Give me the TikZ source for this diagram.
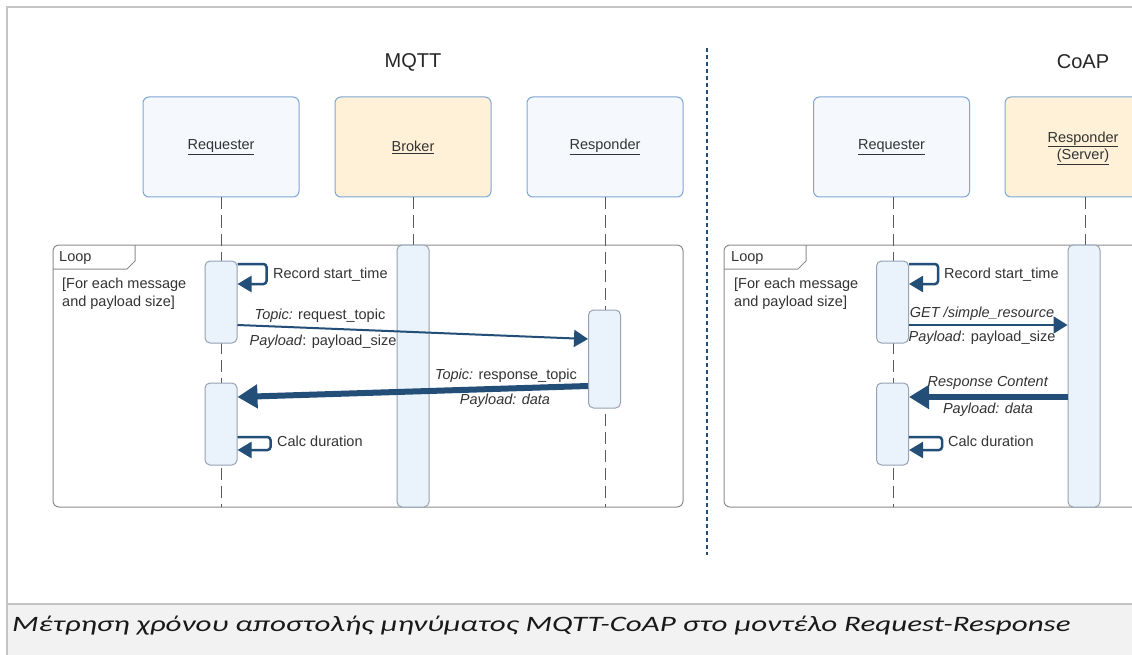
\documentclass[tikz,border=0pt]{standalone}
\usepackage{fontspec}
\setmainfont{Liberation Sans}
\newfontfamily\capfont{Carlito}
\usetikzlibrary{arrows.meta}
\definecolor{txt}{HTML}{333333}
\definecolor{arrowc}{HTML}{234E78}
\definecolor{partfill}{HTML}{F5F9FE}
\definecolor{brokfill}{HTML}{FEF1D8}
\definecolor{partedge}{HTML}{7EA6D3}
\definecolor{actfill}{HTML}{EAF2FC}
\definecolor{actedge}{HTML}{98A2B3}
\definecolor{frameedge}{HTML}{8C8C8C}
\definecolor{outeredge}{HTML}{C4C4C4}
\definecolor{capfill}{HTML}{F2F2F2}
\definecolor{lifec}{HTML}{5A5A5A}
\newcommand\fsz[2]{\fontsize{#1}{#2}\selectfont}
\begin{document}
\begin{tikzpicture}[x=1pt,y=-1pt,
  part/.style={draw=partedge, line width=1pt, rounded corners=6pt, minimum width=156pt, minimum height=100pt, align=center, text=txt, font=\fsz{14.5}{17.5}},
  act/.style={draw=actedge, fill=actfill, line width=1pt, rounded corners=5pt, minimum width=32pt, inner sep=0pt},
  lbl/.style={text=txt, font=\fsz{14.5}{17.5}, inner sep=0pt, anchor=base},
  lblw/.style={lbl, anchor=base west},
  life/.style={draw=lifec, line width=1pt, dash pattern=on 12pt off 6pt},
  msg/.style={draw=arrowc, line width=2pt, -{Triangle[length=14pt,width=17pt]}},
  bigmsg/.style={draw=arrowc, line width=6pt, -{Triangle[length=20pt,width=23pt]}},
  selfmsg/.style={draw=arrowc, line width=2.5pt, rounded corners=3pt, -{Triangle[length=14pt,width=16pt]}},
  loopframe/.style={draw=frameedge, line width=1pt, rounded corners=6pt},
  title/.style={text=black!85, font=\fsz{20}{24}},
]
\useasboundingbox (0,0) rectangle (1132,655);
\begin{scope}
\clip (0,0) rectangle (1132,655);
\fill[white] (0,0) rectangle (1132,655);
\draw[outeredge, line width=1.5pt] (7,7) rectangle (1150,604);
\filldraw[fill=capfill, draw=outeredge, line width=1.5pt] (7,604) rectangle (1150,665);

% titles
\node[title] (tmqtt) at (413,62) {MQTT};
\node[title] (tcoap) at (1083,62) {CoAP};

% separator
\coordinate (sepA) at (707,48);
\coordinate (sepB) at (707,555);
\draw[arrowc, line width=1.5pt, dash pattern=on 4pt off 3pt] (sepA) -- (sepB);

% participants
\node[part, fill=partfill] (req) at (221,147) {\underline{Requester}};
\node[part, fill=brokfill] (brk) at (413,147) {\underline{Broker}};
\node[part, fill=partfill] (rsp) at (605,147) {\underline{Responder}};
\node[part, fill=partfill] (creq) at (891.5,147) {\underline{Requester}};
\node[part, fill=brokfill, text depth=3pt] (crsp) at (1083,147) {\underline{Responder}\\\underline{(Server)}};

% loop frames
\draw[loopframe] (53,245) rectangle (683,507);
\draw[frameedge, line width=1pt] (53,269) -- (127,269) -- (135,261) -- (135,245);
\node[lblw] (loop1) at (59,261) {Loop};
\node[lblw] (cond1a) at (62,288) {[For each message};
\node[lblw] (cond1b) at (62,306) {and payload size]};

\draw[loopframe] (724,245) rectangle (1160,507);
\draw[frameedge, line width=1pt] (724,269) -- (798,269) -- (806,261) -- (806,245);
\node[lblw] (loop2) at (731,261) {Loop};
\node[lblw] (cond2a) at (734,288) {[For each message};
\node[lblw] (cond2b) at (734,306) {and payload size]};

% lifelines
\coordinate (reqE) at (221,507);
\coordinate (brkE) at (413,507);
\coordinate (rspE) at (605,507);
\coordinate (creqE) at (893,507);
\coordinate (crspE) at (1085,507);
\draw[life] (req.south) -- (reqE);
\draw[life] (brk.south) -- (brkE);
\draw[life] (rsp.south) -- (rspE);
\draw[life] (creq.south -| creqE) -- (creqE);
\draw[life] (crsp.south -| crspE) -- (crspE);

% activations MQTT
\node[act, minimum height=82pt] (a1) at (221,302) {};
\node[act, minimum height=82pt] (a2) at (221,424) {};
\node[act, minimum height=262pt] (ab) at (413,376) {};
\node[act, minimum height=98pt] (ar) at (604.5,359) {};

% activations CoAP
\node[act, minimum height=82pt] (c1) at (892.5,302) {};
\node[act, minimum height=82pt] (c2) at (892.5,424) {};
\node[act, minimum height=262pt] (cr) at (1084,376) {};

% MQTT self messages
\draw[selfmsg] (a1.east |- 0,264) -- ++(29,0) -- ++(0,20) -- (a1.east |- 0,284);
\node[lblw] (t1) at (273,278) {Record start\_time};
\draw[selfmsg] (a2.east |- 0,437) -- ++(33,0) -- ++(0,13) -- (a2.east |- 0,450);
\node[lblw] (t2) at (277,446) {Calc duration};

% MQTT messages
\draw[msg] (a1.east |- 0,325) -- (ar.west |- 0,339);
\node[lbl] (m1a) at (320,319) {\textit{Topic:} request\_topic};
\node[lbl] (m1b) at (323,345) {\textit{Payload}: payload\_size};
\draw[bigmsg] (ar.west |- 0,386) -- (a2.east |- 0,397);
\node[lbl] (m2a) at (506,379) {\textit{Topic:} response\_topic};
\node[lbl] (m2b) at (505,404) {\textit{Payload: data}};

% CoAP self messages
\draw[selfmsg] (c1.east |- 0,264) -- ++(29,0) -- ++(0,20) -- (c1.east |- 0,284);
\node[lblw] (t3) at (944,278) {Record start\_time};
\draw[selfmsg] (c2.east |- 0,437) -- ++(33,0) -- ++(0,13) -- (c2.east |- 0,450);
\node[lblw] (t4) at (948,446) {Calc duration};

% CoAP messages
\draw[msg] (c1.east |- 0,325) -- (cr.west |- 0,325);
\node[lbl] (c1a) at (982,317) {\textit{GET /simple\_resource}};
\node[lbl] (c1b) at (982,341) {\textit{Payload}: payload\_size};
\draw[bigmsg] (cr.west |- 0,397) -- (c2.east |- 0,397);
\node[lbl] (c2a) at (988,386) {\textit{Response Content}};
\node[lbl] (c2b) at (988,413) {\textit{Payload: data}};

% caption
\node[anchor=base west, inner sep=0pt, text=black!90, font=\capfont\itshape\fsz{22}{26}] (cap) at (12,631) {\scalebox{1.41}[1]{Μέτρηση χρόνου αποστολής μηνύματος MQTT-CoAP στο μοντέλο Request-Response}};
\end{scope}
\end{tikzpicture}
\end{document}
